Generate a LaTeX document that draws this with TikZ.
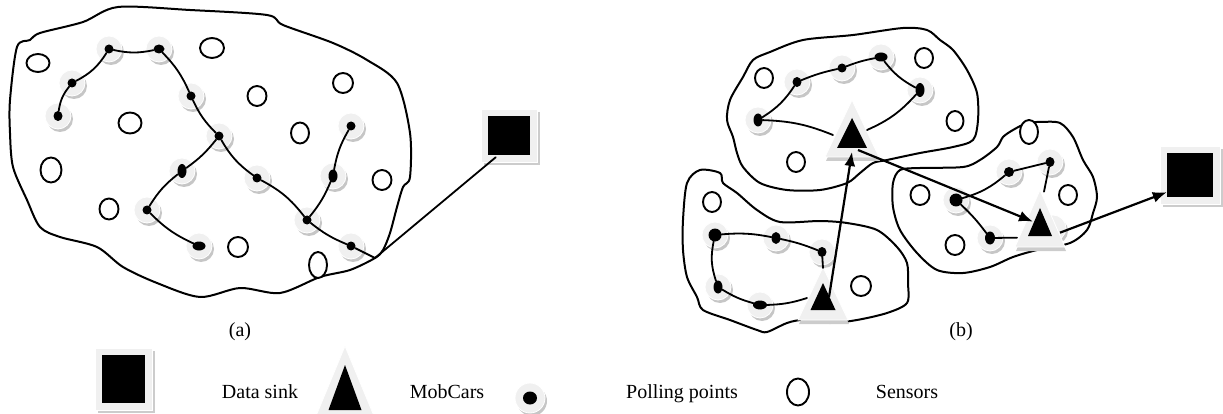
\documentclass[tikz,border=0pt]{standalone}
\usepackage{fontspec}
\setmainfont{Liberation Serif}
\usetikzlibrary{shapes.geometric,calc,arrows.meta}

\tikzset{
  halo/.style={fill=gray!12, draw=white, line width=0.8},
  haloshadow/.style={fill=gray!45},
  pdot/.style={ellipse, fill=black, inner sep=0, draw=none},
  sensor/.style={ellipse, draw=black, line width=1.9, inner sep=0, fill=white},
  wire/.style={line width=1.8, line cap=round},
  region/.style={line width=2.0, line join=round},
  move/.style={line width=2.2, -{Latex[length=14,width=11]}},
  caption/.style={font=\fontsize{20}{24}\selectfont, inner sep=0, anchor=base},
}

% polling point: grey halo with shadow and a black dot (name, x, y, dot w, dot h)
\newcommand\pollpt[5]{%
  \fill[haloshadow] (#2+2,#3+3) circle[radius=13];
  \filldraw[halo] (#2,#3) circle[radius=13];
  \node[pdot, minimum width=#4, minimum height=#5] (#1) at (#2,#3) {};}

% data sink: black square on a light frame with shadow (name, x, y, w, h)
\newcommand\sinkbox[5]{%
  \fill[gray!40] (#2-#4/2-4,#3-#5/2-4) rectangle (#2+#4/2+10,#3+#5/2+10);
  \filldraw[fill=gray!12, draw=white, line width=0.8] (#2-#4/2-7,#3-#5/2-7) rectangle (#2+#4/2+7,#3+#5/2+7);
  \node[fill=black, inner sep=0, minimum width=#4, minimum height=#5] (#1) at (#2,#3) {};}

% mobile car: black triangle on a light triangle
% (name, x, apex y, base y, width, outer apex y, outer base y, outer width)
\newcommand\mobcar[8]{%
  \fill[gray!40] (#2+1,#6+4) -- (#2+1+#8/2,#7+4) -- (#2+1-#8/2,#7+4) -- cycle;
  \filldraw[fill=gray!12, draw=white, line width=0.8] (#2,#6) -- (#2+#8/2,#7) -- (#2-#8/2,#7) -- cycle;
  \fill[black] (#2,#3) -- (#2+#5/2,#4) -- (#2-#5/2,#4) -- cycle;
  \coordinate (#1) at (#2,{(#3+2*#4)/3});}

\begin{document}
\begin{tikzpicture}[x=1pt,y=-1pt]
\useasboundingbox (0,0) rectangle (1223,414);

% ---------- (a) single field ----------
\draw[region] plot[smooth cycle, tension=0.5] coordinates {
  (118,7) (190,10) (267,15) (283,25) (333,43) (367,60) (397,83) (410,133)
  (410,177) (403,187) (397,207) (390,233) (383,250) (375,258) (350,270)
  (320,277) (280,293) (240,288) (200,297) (157,283) (123,267) (97,247)
  (60,237) (40,227) (27,200) (13,167) (10,133) (10,100) (17,47) (30,40)
  (40,33) (83,22)};
\coordinate (gate) at (375,258);

\node[sensor, minimum width=23, minimum height=18] (sa1) at (38,63) {};
\node[sensor, minimum width=24, minimum height=20] (sa2) at (212,48) {};
\node[sensor, minimum width=19, minimum height=20] (sa3) at (257,96) {};
\node[sensor, minimum width=20, minimum height=20] (sa4) at (343,83) {};
\node[sensor, minimum width=23, minimum height=21] (sa5) at (130,123) {};
\node[sensor, minimum width=18, minimum height=21] (sa6) at (300,133) {};
\node[sensor, minimum width=21, minimum height=25] (sa7) at (51,170) {};
\node[sensor, minimum width=19, minimum height=20] (sa8) at (382,180) {};
\node[sensor, minimum width=19, minimum height=21] (sa9) at (109,209) {};
\node[sensor, minimum width=20, minimum height=20] (sa10) at (238,247) {};
\node[sensor, minimum width=18, minimum height=26] (sa11) at (318,265) {};

\pollpt{pa1}{109}{49}{9}{9}
\pollpt{pa2}{159}{49}{11}{9}
\pollpt{pa3}{72}{83}{9}{9}
\pollpt{pa4}{58}{116}{9}{10}
\pollpt{pa5}{191}{96}{9}{9}
\pollpt{pa6}{219}{136}{9}{9}
\pollpt{pa7}{182}{171}{9}{14}
\pollpt{pa8}{257}{178}{9}{9}
\pollpt{pa9}{333}{176}{9}{13}
\pollpt{pa10}{351}{126}{9}{9}
\pollpt{pa11}{147}{210}{9}{9}
\pollpt{pa12}{199}{246}{13}{9}
\pollpt{pa13}{307}{220}{9}{9}
\pollpt{pa14}{351}{246}{9}{9}

\draw[wire] (pa1) to[bend right=12] (pa2);
\draw[wire] (pa1) to[bend left=15] (pa3);
\draw[wire] (pa3) to[bend right=15] (pa4);
\draw[wire] (pa2) to[bend left=10] (pa5);
\draw[wire] (pa5) to[bend right=10] (pa6);
\draw[wire] (pa6) to[bend left=8] (pa7);
\draw[wire] (pa7) to[bend right=10] (pa11);
\draw[wire] (pa11) to[bend right=10] (pa12);
\draw[wire] (pa6) to[bend right=12] (pa8);
\draw[wire] (pa8) to[bend left=12] (pa13);
\draw[wire] (pa13) to[bend right=8] (pa9);
\draw[wire] (pa9) to[bend left=10] (pa10);
\draw[wire] (pa13) to[bend right=8] (pa14);
\draw[wire] (pa14) -- (gate);

\sinkbox{sinkL}{509}{135.5}{42}{39}
\draw[wire] (gate) -- ($(sinkL.south west)+(8,2)$);

\node[caption] (capa) at (240,336) {(a)};

% ---------- (b) clustered field ----------
\draw[region] plot[smooth cycle, tension=0.5] coordinates {
  (753,60) (770,52) (803,40) (853,35) (903,28) (927,30) (940,40) (953,50)
  (967,70) (977,93) (978,120) (973,140) (953,147) (920,153) (887,160)
  (873,163) (860,173) (847,183) (820,190) (787,190) (760,183) (743,167)
  (737,153) (733,137) (727,120) (730,100) (743,77)};
\draw[region] plot[smooth cycle, tension=0.5] coordinates {
  (700,170) (720,173) (723,183) (737,193) (757,210) (780,222) (820,221)
  (847,223) (877,230) (897,247) (907,263) (908,283) (907,303) (887,313)
  (857,320) (830,323) (803,320) (787,323) (767,332) (757,330) (730,320)
  (703,310) (697,297) (687,277) (683,250) (683,220) (687,183)};
\draw[region] plot[smooth cycle, tension=0.5] coordinates {
  (900,170) (920,168) (963,167) (980,160) (997,147) (1003,137) (1013,130)
  (1027,123) (1040,122) (1060,123) (1073,137) (1083,160) (1093,177)
  (1097,197) (1093,213) (1087,230) (1070,243) (1037,250) (1013,257)
  (990,267) (963,273) (937,270) (917,253) (900,230) (893,207) (893,183)};

\node[sensor, minimum width=18, minimum height=20] (sb1) at (764,78) {};
\node[sensor, minimum width=18, minimum height=20] (sb2) at (924,58) {};
\node[sensor, minimum width=17, minimum height=20] (sb3) at (955,121) {};
\node[sensor, minimum width=18, minimum height=20] (sb4) at (796,162) {};
\node[sensor, minimum width=18, minimum height=20] (sb5) at (712,202) {};
\node[sensor, minimum width=20, minimum height=20] (sb6) at (861,286) {};
\node[sensor, minimum width=18, minimum height=24] (sb7) at (1029,132) {};
\node[sensor, minimum width=19, minimum height=20] (sb8) at (920,195) {};
\node[sensor, minimum width=18, minimum height=20] (sb9) at (1068,195) {};
\node[sensor, minimum width=19, minimum height=20] (sb10) at (955,245) {};

\pollpt{pb1}{797}{82}{9}{10}
\pollpt{pb2}{842}{68}{9}{9}
\pollpt{pb3}{881}{57}{13}{9}
\pollpt{pb4}{920}{90}{9}{14}
\pollpt{pb5}{758}{120}{9}{13}
\pollpt{pb6}{715}{235}{13}{13}
\pollpt{pb7}{776}{238}{9}{12}
\pollpt{pb8}{822}{252}{9}{10}
\pollpt{pb9}{718}{287}{9}{13}
\pollpt{pb10}{760}{305}{14}{9}
\pollpt{pb11}{1009}{172}{10}{10}
\pollpt{pb12}{1050}{162}{9}{10}
\pollpt{pb13}{956}{200}{13}{13}
\pollpt{pb14}{990}{238}{10}{13}
\fill[haloshadow] (1055,231) circle[radius=13];
\filldraw[halo] (1053,228) circle[radius=13];

\mobcar{mcT}{852}{118}{148}{30}{100}{157}{54}
\mobcar{mcB}{823}{283}{310}{25}{267}{320}{50}
\mobcar{mcR}{1040}{208}{236}{24}{190}{247}{50}

\draw[wire] (pb5) to[bend right=12] (pb1);
\draw[wire] (pb1) to[bend left=5] (pb2);
\draw[wire] (pb2) to[bend left=5] (pb3);
\draw[wire] (pb3) to[bend right=12] (pb4);
\draw[wire] (pb4) to[bend left=12] ($(mcT)+(15,-8)$);
\draw[wire] (pb5) to[bend left=10] ($(mcT)+(-19,-3)$);

\draw[wire] (pb6) to[bend left=8] (pb7);
\draw[wire] (pb7) to[bend left=5] (pb8);
\draw[wire] (pb8) -- ($(mcB)+(0,-33)$);
\draw[wire] (pb6) to[bend right=15] (pb9);
\draw[wire] (pb9) to[bend right=8] (pb10);
\draw[wire] (pb10) to[bend right=8] ($(mcB)+(-16,-3)$);

\draw[wire] (pb11) -- (pb12);
\draw[wire] (pb11) to[bend left=12] (pb13);
\draw[wire] (pb12) -- ($(mcR)+(4,-35)$);
\draw[wire] (pb13) to[bend left=5] (pb14);
\draw[wire] (pb14) -- ($(mcR)+(-23,11)$);

\sinkbox{sinkR}{1190}{175}{46}{44}

\draw[move] ($(mcB)+(6,-4)$) -- ($(mcT)+(0,14)$);
\draw[move] ($(mcT)+(6,12)$) -- ($(mcR)+(-7,-5)$);
\draw[move] ($(mcR)+(20,6)$) -- ($(sinkR.south west)+(0,-5)$);

\node[caption] (capb) at (961,336) {(b)};

% ---------- legend ----------
\sinkbox{legsink}{123.5}{379}{43}{48}
\node[caption] (legsinktxt) at (260,398) {Data sink};
\mobcar{legcar}{345}{365}{410}{33}{346}{416}{58}
\node[caption] (legcartxt) at (447,398) {MobCars};
\fill[haloshadow] (532,401) circle[radius=15];
\filldraw[halo] (530,398) circle[radius=15];
\node[pdot, minimum width=14, minimum height=13] (legpoll) at (530,398) {};
\node[caption] (legpolltxt) at (682,398) {Polling points};
\node[sensor, minimum width=22, minimum height=27] (legsensor) at (798,392) {};
\node[caption] (legsensortxt) at (907,398) {Sensors};
\end{tikzpicture}
\end{document}
